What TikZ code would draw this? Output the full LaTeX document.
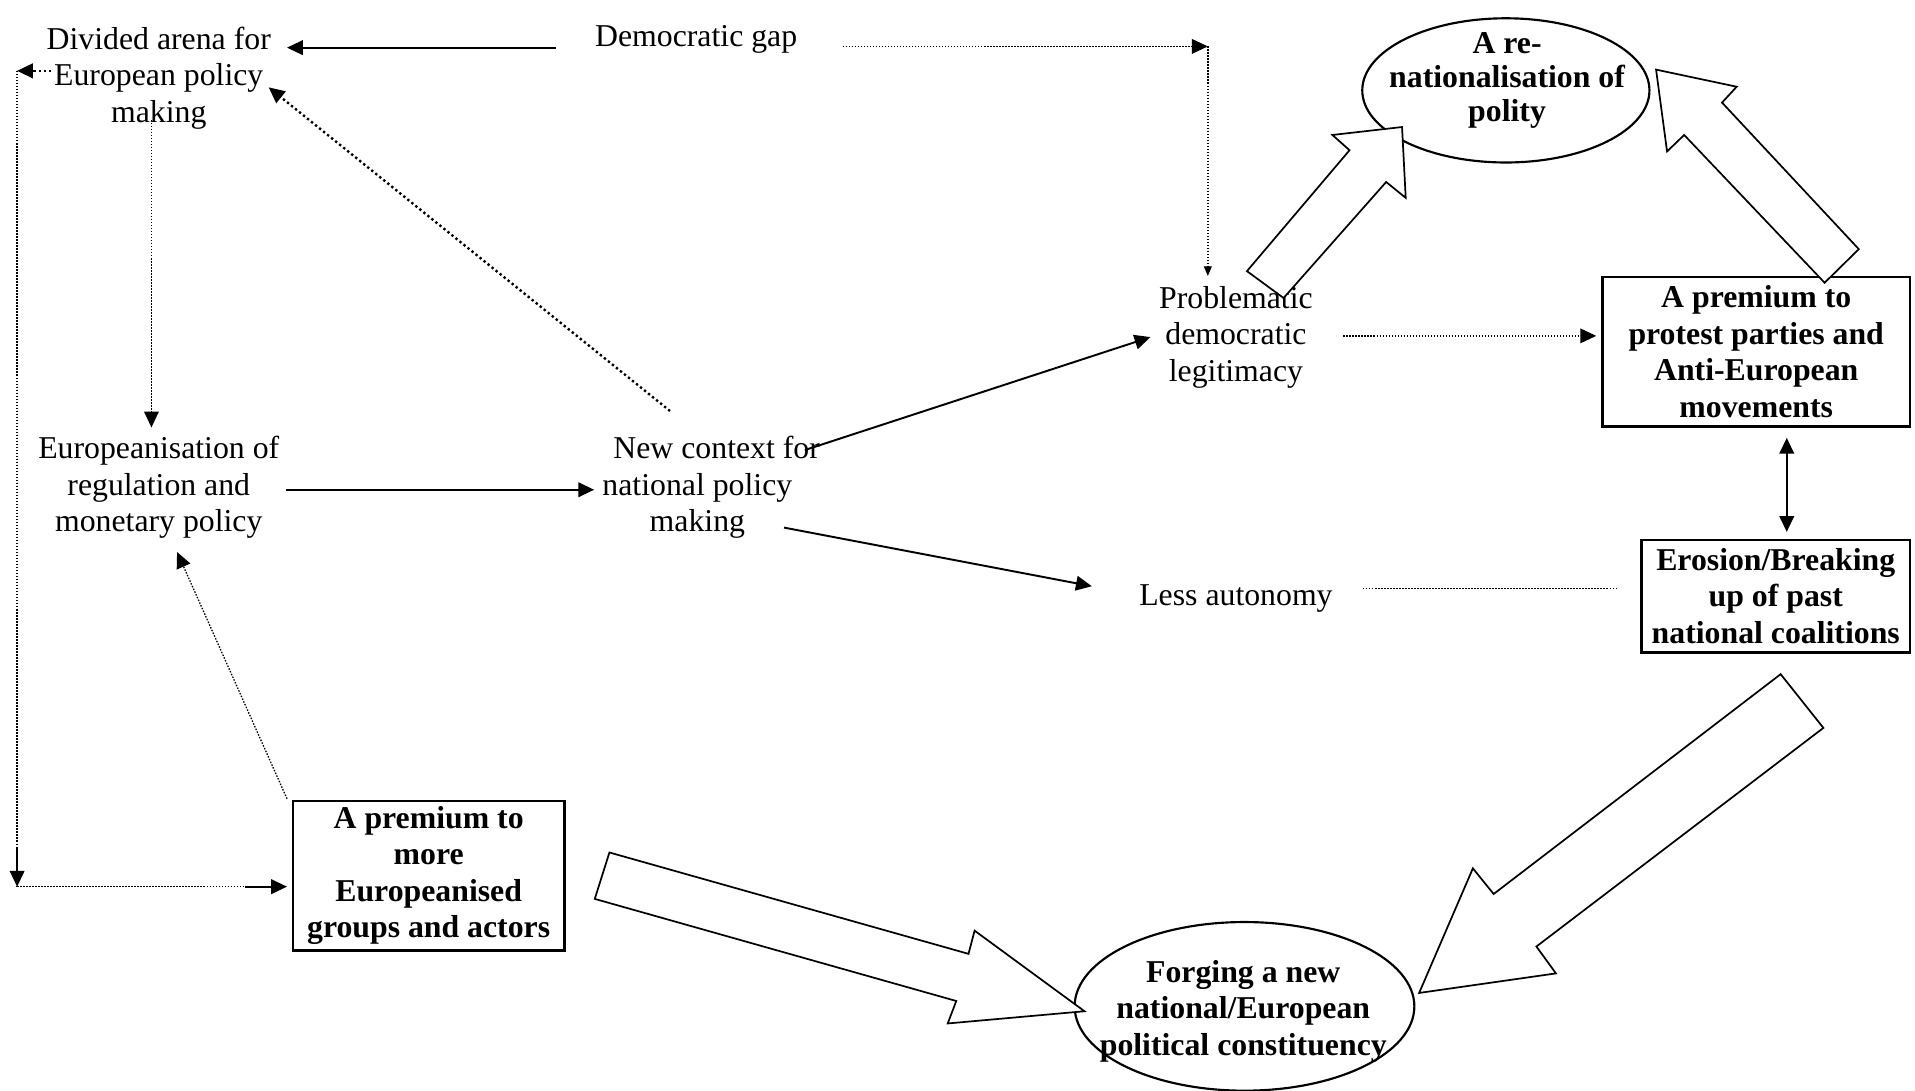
\documentclass[tikz,border=0pt]{standalone}
\usepackage{fontspec}
\setmainfont{Liberation Serif}
\usetikzlibrary{arrows.meta,shapes.geometric}
\begin{document}
\begin{tikzpicture}[x=0.01cm,y=-0.01cm,
  every node/.style={inner sep=0pt,outer sep=0pt},
  txtplain/.style={align=center,font=\fontsize{7.4pt}{8.5pt}\selectfont},
  txtbold/.style={align=center,font=\fontsize{7.4pt}{8.5pt}\selectfont\bfseries},
  framedbox/.style={draw,line width=0.6pt,txtbold},
  ovalshape/.style={draw,ellipse,line width=0.5pt},
  tipbig/.style={-{Triangle[length=0.13cm,width=0.12cm]}},
  tipsmall/.style={-{Triangle[length=0.08cm,width=0.065cm]}},
  solidlink/.style={line width=0.45pt},
  finedots/.style={line width=0.3pt,dash pattern=on 0.35pt off 0.35pt},
  coarsedots/.style={line width=0.55pt,dash pattern=on 0.55pt off 0.65pt},
  blockarrow/.style={draw,fill=white,line width=0.4pt,line join=miter},
]
\useasboundingbox (0,0) rectangle (1568,893);

% plain text nodes
\node[txtplain] (divided) at (130,64) {Divided arena for\\European policy\\making};
\node[txtplain] (demgap)  at (570,32) {Democratic gap};
\node[txtplain] (europ)   at (130,399) {Europeanisation of\\regulation and\\monetary policy};
\node[txtplain] (newctx)  at (571,399) {\hspace*{9pt}New context for\\national policy\\making};
\node[txtplain] (problem) at (1012,276) {Problematic\\democratic\\legitimacy};
\node[txtplain] (lessaut) at (1012,490) {Less autonomy};

% framed boxes
\node[framedbox,minimum width=2.52cm,minimum height=1.22cm] (protest) at (1438,288)
  {A premium to\\protest parties and\\Anti-European\\movements};
\node[framedbox,minimum width=2.20cm,minimum height=0.92cm] (erosion) at (1454,488)
  {Erosion/Breaking\\up of past\\national coalitions};
\node[framedbox,minimum width=2.22cm,minimum height=1.225cm] (moreeu) at (351,717)
  {A premium to\\more\\Europeanised\\groups and actors};

% ellipses
\node[ovalshape,minimum width=2.35cm,minimum height=1.18cm] (renat) at (1233,74) {};
\node[txtbold,font=\fontsize{7.4pt}{7.9pt}\selectfont\bfseries] (renattext) at (1234,66)
  {A re-\\nationalisation of\\polity};
\node[ovalshape,minimum width=2.78cm,minimum height=1.38cm] (forging) at (1019,824) {};
\node[txtbold] (forgingtext) at (1018,828)
  {Forging a new\\national/European\\political constituency};

% connectors
\draw[solidlink,tipbig] ([shift={(-115,7)}]demgap.center) -- ([shift={(105,-25)}]divided.center);
\coordinate (dgc) at (989,38);
\draw[finedots,tipbig] ([shift={(120,6)}]demgap.center) -- (dgc);
\draw[finedots,tipsmall] (dgc) -- ([shift={(-23,-50)}]problem.center);

\draw[finedots,tipbig] ([shift={(-6,34)}]divided.center) -- ([shift={(-6,-49)}]europ.center);
\draw[coarsedots,tipbig] ([shift={(-22.4,-62.5)}]newctx.center) -- ([shift={(90,7.5)}]divided.center);
\draw[solidlink,tipbig] ([shift={(104,2)}]europ.center) -- ([shift={(-84.5,2)}]newctx.center);
\draw[finedots,tipbig] ([shift={(-116,-63)}]moreeu.center) -- ([shift={(15,53)}]europ.center);

\draw[solidlink,tipbig] ([shift={(88,-30.5)}]newctx.center) -- ([shift={(-70,0)}]problem.center);
\draw[solidlink,tipbig] ([shift={(71,33)}]newctx.center) -- ([shift={(-118,-10)}]lessaut.center);
\draw[finedots,tipbig] ([shift={(88,-1)}]problem.center) -- ([shift={(-131,-13)}]protest.center);
\draw[finedots] ([shift={(104,-8.4)}]lessaut.center) -- ([shift={(-130,-6.4)}]erosion.center);
\draw[solidlink,{Triangle[length=0.13cm,width=0.12cm]}-{Triangle[length=0.13cm,width=0.12cm]}]
  ([shift={(25,70.5)}]protest.center) -- ([shift={(9,-52.5)}]erosion.center);

% left-hand loop from the divided arena to the Europeanised groups
\coordinate (tlc) at (14,58);
\coordinate (blc) at (14,726);
\draw[coarsedots,tipbig] ([shift={(-88,-6)}]divided.center) -- (tlc);
\draw[finedots] (tlc) -- (blc);
\draw[solidlink,tipbig] ([shift={(0,-32)}]blc) -- (blc);
\draw[finedots] (blc) -- ([shift={(-150,9)}]moreeu.center);
\draw[solidlink,tipbig] ([shift={(-150,9)}]moreeu.center) -- ([shift={(-116,9)}]moreeu.center);

% block arrows
\draw[blockarrow] (1021,222) -- (1105,123) -- (1091,110.5) -- (1148,104)
  -- (1151,162) -- (1135,149) -- (1051,244) -- cycle;
\draw[blockarrow] (1494,231.5) -- (1379,110.5) -- (1365,124) -- (1356,57)
  -- (1422,71) -- (1410,84) -- (1522,204) -- cycle;
\draw[blockarrow] (1458,552) -- (1493,596) -- (1258,775) -- (1274,797)
  -- (1162,813) -- (1206,711) -- (1223,732) -- cycle;
\draw[blockarrow] (499,698) -- (793,781) -- (798,762) -- (888,828)
  -- (776,838) -- (783,819.6) -- (487,736) -- cycle;
\end{tikzpicture}
\end{document}
